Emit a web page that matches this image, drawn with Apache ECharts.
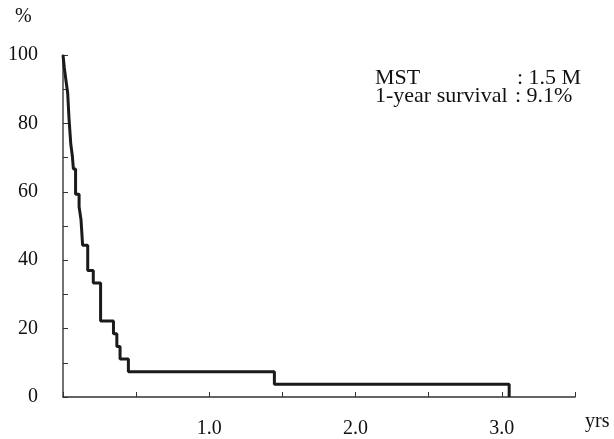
<!DOCTYPE html>
<html>
<head>
<meta charset="utf-8">
<script src="https://cdn.jsdelivr.net/npm/echarts@6/dist/echarts.min.js"></script>
<style>html,body{margin:0;padding:0;background:#fff}#c{width:614px;height:439px}</style>
</head>
<body>
<div id="c"></div>
<script>
// Kaplan-Meier step points (time in years, survival %)
var times = [0, 0.009, 0.02, 0.032, 0.041, 0.053, 0.064, 0.071, 0.086, 0.11, 0.123, 0.134, 0.169, 0.207, 0.257, 0.345, 0.368, 0.39, 0.447, 1.445, 3.05];
var survival = [100, 96.3, 92.6, 88.9, 81.5, 74.1, 70.4, 66.7, 59.3, 55.6, 51.9, 44.4, 37.0, 33.3, 22.2, 18.5, 14.8, 11.1, 7.4, 3.7, 0];
var xTickLabels = ['1.0', '2.0', '3.0'];
var yTickLabels = ['0', '20', '40', '60', '80', '100'];
var infoLabels = ['MST', '1-year survival'];
var infoValues = [': 1.5 M', ': 9.1%'];

var FONT = '"Liberation Serif", "Times New Roman", serif';
var data = times.map(function (t, i) { return [t, survival[i]]; });

var chart = echarts.init(document.getElementById('c'), null, {renderer: 'canvas'});
chart.setOption({
  animation: false,
  backgroundColor: '#fff',
  grid: {left: 63, top: 55, width: 512, height: 342},
  xAxis: {
    type: 'value', min: 0, max: 3.5, interval: 0.5,
    axisLine: {show: true, lineStyle: {color: '#333', width: 1.5}},
    axisTick: {show: true, inside: true, length: 5, lineStyle: {color: '#333', width: 1}},
    splitLine: {show: false},
    axisLabel: {
      margin: 22, color: '#111', fontFamily: FONT, fontSize: 20,
      formatter: function (v) {
        var s = v.toFixed(1);
        return xTickLabels.indexOf(s) >= 0 ? s : '';
      }
    }
  },
  yAxis: {
    type: 'value', min: 0, max: 100, interval: 10,
    axisLine: {show: true, lineStyle: {color: '#444', width: 1.5}},
    axisTick: {show: true, inside: true, length: 5, lineStyle: {color: '#333', width: 1}},
    splitLine: {show: false},
    axisLabel: {
      margin: 25, color: '#111', fontFamily: FONT, fontSize: 20,
      formatter: function (v) {
        var s = String(v);
        return yTickLabels.indexOf(s) >= 0 ? s : '';
      }
    }
  },
  series: [{
    type: 'line', step: 'end', data: data, symbol: 'none',
    lineStyle: {color: '#1a1a1a', width: 3}
  }],
  graphic: [
    {type: 'text', left: 15, top: 7, style: {text: '%', font: '20px ' + FONT, fill: '#111'}},
    {type: 'text', left: 585, top: 412, style: {text: 'yrs', font: '20px ' + FONT, fill: '#111'}},
    {type: 'text', left: 375, top: 67, style: {text: infoLabels[0], font: '22px ' + FONT, fill: '#111'}},
    {type: 'text', left: 517, top: 67, style: {text: infoValues[0], font: '22px ' + FONT, fill: '#111'}},
    {type: 'text', left: 375, top: 85, style: {text: infoLabels[1], font: '22px ' + FONT, fill: '#111'}},
    {type: 'text', left: 515, top: 85, style: {text: infoValues[1], font: '22px ' + FONT, fill: '#111'}}
  ]
});
</script>
</body>
</html>
